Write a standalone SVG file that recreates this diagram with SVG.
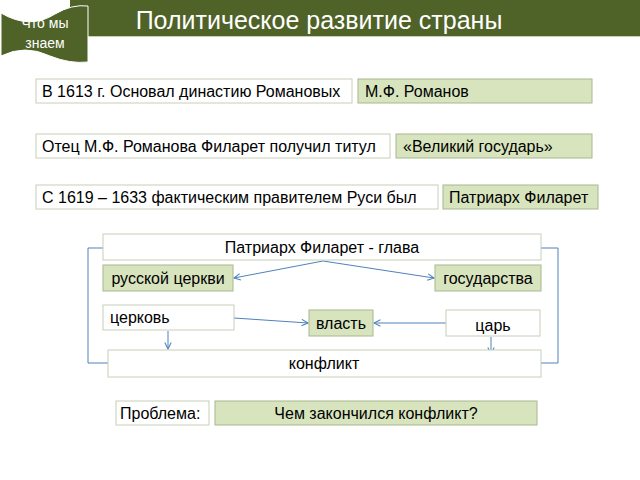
<svg xmlns="http://www.w3.org/2000/svg" width="640" height="480" viewBox="0 0 640 480">
<defs>
<style>
.w{fill:#fff;stroke:#c8cfb8;stroke-width:1}
.g{fill:#d7e4bd;stroke:#a8b890;stroke-width:1}
text{font-family:"Liberation Sans",Arial,sans-serif;font-size:16px;fill:#000}
.c{stroke:#4f81bd;stroke-width:1;fill:none}
</style>
<marker id="a" viewBox="0 0 10 10" refX="9" refY="5" markerWidth="8" markerHeight="8" orient="auto"><path d="M1,1 L9,5 L1,9" fill="none" stroke="#4f81bd" stroke-width="1.3"/></marker>
</defs>
<rect width="640" height="480" fill="#fff"/>
<rect x="70" y="0" width="570" height="36" fill="#4f6228"/>
<line x1="88" y1="36.5" x2="640" y2="36.5" stroke="#c8d2b0" stroke-width="1"/>
<text x="319" y="29" text-anchor="middle" style="font-size:25px;fill:#fff">Политическое развитие страны</text>
<g id="flag">
<path d="M1,13 Q30,30 55,14 Q72,4 88,6 L88,62 Q70,64 50,56 Q25,44 1,56 Z" fill="#4f6228" stroke="#fff" stroke-width="1"/>
<text x="45" y="28" text-anchor="middle" style="font-size:14px;fill:#fff">Что мы</text>
<text x="45" y="48" text-anchor="middle" style="font-size:14px;fill:#fff">знаем</text>
</g>
<g id="r1"><rect class="w" x="36" y="79" width="316" height="24"/><text x="42" y="97">В 1613 г. Основал династию Романовых</text></g>
<g id="a1"><rect class="g" x="358" y="79" width="234" height="24"/><text x="365" y="97">М.Ф. Романов</text></g>
<g id="r2"><rect class="w" x="36" y="134" width="354" height="24"/><text x="42" y="152">Отец М.Ф. Романова Филарет получил титул</text></g>
<g id="a2"><rect class="g" x="396" y="134" width="196" height="24"/><text x="403" y="152">«Великий государь»</text></g>
<g id="r3"><rect class="w" x="36" y="185" width="402" height="24"/><text x="42" y="203">С 1619 – 1633 фактическим правителем Руси был</text></g>
<g id="a3"><rect class="g" x="443" y="185" width="155" height="24"/><text x="449" y="203">Патриарх Филарет</text></g>
<g id="connectors">
<polyline class="c" points="103,248 88,248 88,363 108,363"/>
<polyline class="c" points="541,248 558,248 558,363 541,363"/>
<line class="c" x1="323" y1="261" x2="234" y2="278" marker-end="url(#a)"/>
<line class="c" x1="323" y1="261" x2="434" y2="278" marker-end="url(#a)"/>
<line class="c" x1="234" y1="318" x2="308" y2="323" marker-end="url(#a)"/>
<line class="c" x1="446" y1="323" x2="374" y2="323" marker-end="url(#a)"/>
<line class="c" x1="168" y1="331" x2="168" y2="349" marker-end="url(#a)"/>
<line class="c" x1="491" y1="337" x2="491" y2="354" marker-end="url(#a)"/>
</g>
<g id="head"><rect class="w" x="103" y="234" width="438" height="26"/><text x="322" y="253" text-anchor="middle">Патриарх Филарет - глава</text></g>
<g id="ch"><rect class="g" x="103" y="265" width="130" height="26"/><text x="168" y="284" text-anchor="middle">русской церкви</text></g>
<g id="st"><rect class="g" x="435" y="265" width="106" height="26"/><text x="488" y="284" text-anchor="middle">государства</text></g>
<g id="cer"><rect class="w" x="103" y="305" width="131" height="25"/><text x="110" y="323">церковь</text></g>
<g id="vl"><rect class="g" x="309" y="310" width="64" height="26"/><text x="341" y="329" text-anchor="middle">власть</text></g>
<g id="tsar"><rect class="w" x="446" y="310" width="94" height="26"/><text x="493" y="331" text-anchor="middle">царь</text></g>
<g id="konf"><rect class="w" x="108" y="350" width="433" height="27"/><text x="324" y="369" text-anchor="middle">конфликт</text></g>
<g id="pr"><rect class="w" x="116" y="401" width="93" height="24"/><text x="120" y="419">Проблема:</text></g>
<g id="q"><rect class="g" x="215" y="401" width="322" height="24"/><text x="376" y="419" text-anchor="middle">Чем закончился конфликт?</text></g>
</svg>
